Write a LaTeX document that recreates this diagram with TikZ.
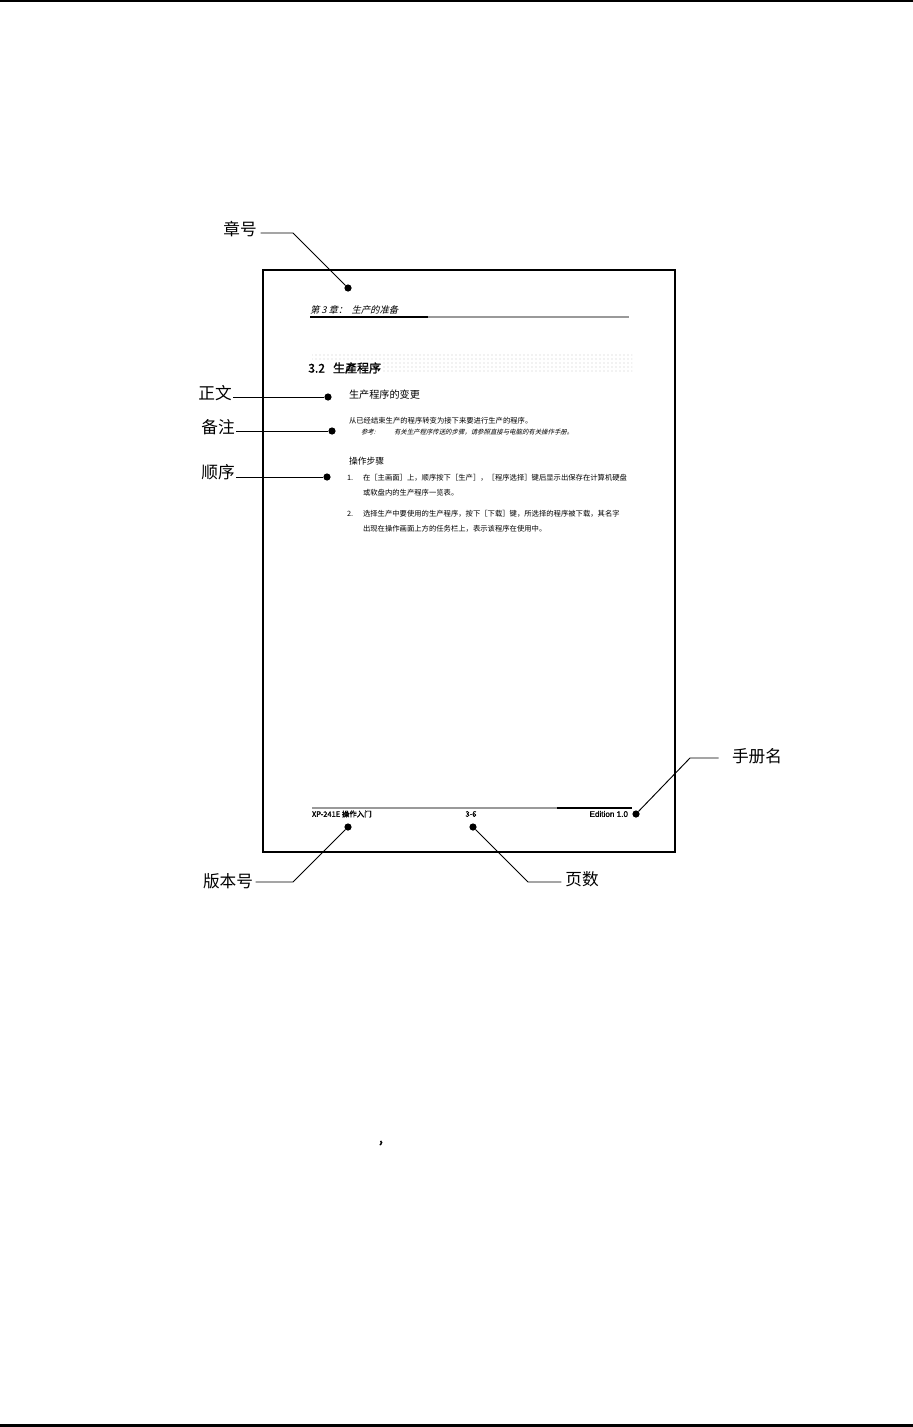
\documentclass[tikz,border=0pt]{standalone}
\usepackage{fontspec}
\newfontfamily\cjk{Noto Sans CJK SC}
\newfontfamily\cjkbf[FakeBold=1.6]{Noto Sans CJK SC}
\newfontfamily\cjkit[FakeSlant=0.25]{Noto Sans CJK SC}
\newfontfamily\arialbf[FakeBold=1.2]{Liberation Sans}
\usetikzlibrary{positioning, calc, patterns}

\begin{document}
\begin{tikzpicture}[
    x=0.75pt, y=-0.75pt,
    every node/.style={inner sep=0pt, outer sep=0pt},
    lbl/.style={font=\cjk\fontsize{12.5}{14}\selectfont},
    dot/.style={circle, fill=black, minimum size=5.4pt},
    lead/.style={line width=0.7pt},
    body/.style={anchor=west, font=\cjk\fontsize{5.5}{6.5}\selectfont},
    subhead/.style={anchor=west, font=\cjk\fontsize{7.6}{9}\selectfont},
    foot/.style={font=\cjkbf\fontsize{5.6}{6.5}\selectfont},
    frame/.style={line width=1.7pt}
]
\useasboundingbox (0,0) rectangle (913,1427);
\draw[line width=1.6pt] (0,1) -- (913,1);
\draw[line width=2.3pt] (0,1425.5) -- (913,1425.5);

% page
\draw[frame] (263,270) rectangle (675,852);
\node[anchor=west, font=\cjkit\fontsize{7}{8}\selectfont] (chapter) at (310,310) {第 3 章：\ \ 生产的准备};
\draw[line width=0.9pt] (310,317) -- (428,317);
\draw[line width=0.9pt, gray!80] (428,317) -- (629,317);
\fill[pattern=dots, pattern color=gray!45] (312,352) rectangle (632,372);
\node[anchor=west, fill=white, inner sep=1pt, font=\cjkbf\fontsize{9}{10}\selectfont] (title) at (307,368) {3.2\ \ \ 生產程序};
\node[subhead] (sub1) at (349,395) {生产程序的变更};
\node[body] (intro) at (349,421) {从已经结束生产的程序转变为接下来要进行生产的程序。};
\node[body, font=\cjkit\fontsize{4.8}{6}\selectfont] (notekey) at (361,432) {参考:};
\node[body, font=\cjkit\fontsize{4.8}{6}\selectfont] (note) at (394,432) {有关生产程序传送的步骤，请参照直接与电脑的有关操作手册。};
\node[subhead, font=\cjk\fontsize{6.6}{8}\selectfont] (sub2) at (349,461) {操作步骤};
\node[body] (n1) at (347,478) {1.};
\node[body] (s1a) at (363,478) {在［主画面］上，顺序按下［生产］，［程序选择］键后显示出保存在计算机硬盘};
\node[body] (s1b) at (363,493) {或软盘内的生产程序一览表。};
\node[body] (n2) at (347,514) {2.};
\node[body] (s2a) at (363,514) {选择生产中要使用的生产程序，按下［下载］键，所选择的程序被下载，其名字};
\node[body] (s2b) at (363,529) {出现在操作画面上方的任务栏上，表示该程序在使用中。};
\draw[line width=0.9pt, gray!80] (312,808) -- (557,808);
\draw[line width=0.9pt] (557,808) -- (632,808);
\node[foot, anchor=west] (model) at (312,814) {XP-241E\ 操作入门};
\node[foot] (pageno) at (471,814) {3-6};
\node[anchor=east, font=\arialbf\fontsize{6.1}{7}\selectfont] (edition) at (628,814) {Edition 1.0};

% callouts
\node[lbl] (zhang) at (240,229) {章号};
\node[lbl] (zhengwen) at (215,393) {正文};
\node[lbl] (beizhu) at (218,427) {备注};
\node[lbl] (shunxu) at (218,472) {顺序};
\node[lbl] (banben) at (228,881) {版本号};
\node[lbl] (yeshu) at (582,879) {页数};
\node[lbl] (shouce) at (757,756) {手册名};

\node[dot] (d-zhang) at (348,288) {};
\node[dot] (d-zhengwen) at (328,397) {};
\node[dot] (d-beizhu) at (332,431) {};
\node[dot] (d-shunxu) at (327,477) {};
\node[dot] (d-banben) at (348,827) {};
\node[dot] (d-yeshu) at (473,827) {};
\node[dot] (d-shouce) at (636,814) {};

\coordinate (b-zhang) at (293,233);
\coordinate (b-banben) at (293,882);
\coordinate (b-yeshu) at (528,882);
\coordinate (b-shouce) at (690,758);

\draw[lead] ([xshift=3pt]zhang.east |- b-zhang) -- (b-zhang) -- (d-zhang);
\draw[lead] ([xshift=1pt]zhengwen.east |- d-zhengwen) -- (d-zhengwen);
\draw[lead] ([xshift=1pt]beizhu.east |- d-beizhu) -- (d-beizhu);
\draw[lead] ([xshift=1pt]shunxu.east |- d-shunxu) -- (d-shunxu);
\draw[lead] ([xshift=2pt]banben.east |- b-banben) -- (b-banben) -- (d-banben);
\draw[lead] ([xshift=-3pt]yeshu.west |- b-yeshu) -- (b-yeshu) -- (d-yeshu);
\draw[lead] ([xshift=-10pt]shouce.west |- b-shouce) -- (b-shouce) -- (d-shouce);

\node[font=\cjkbf\fontsize{11}{12}\selectfont] (comma) at (381,1143) {,};
\end{tikzpicture}
\end{document}
